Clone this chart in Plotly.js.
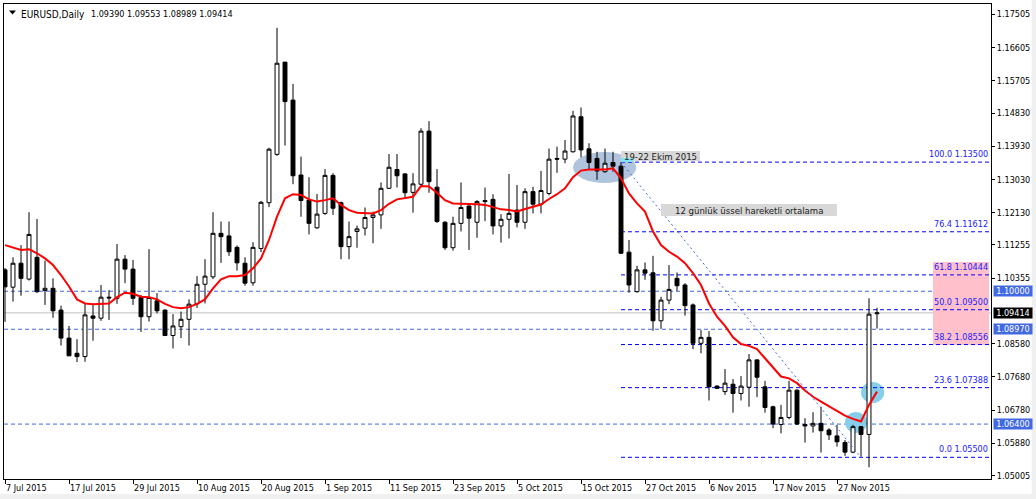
<!DOCTYPE html>
<html><head><meta charset="utf-8">
<script src="https://cdn.plot.ly/plotly-3.0.1.min.js"></script>
<style>html,body{margin:0;padding:0;background:#fff;overflow:hidden}#chart{width:1036px;height:499px}</style>
</head><body><div id="chart"></div>
<script>
// ---------------- DATA ----------------
const symbolName = "EURUSD,Daily";
const lastOHLC = [1.09390, 1.09553, 1.08989, 1.09414];

const open = [1.1058,1.1011,1.1076,1.1033,1.1092,1.1002,1.1008,1.0949,1.0873,1.0832,
1.0823,1.0933,1.0927,1.0984,1.0981,1.1087,1.1060,1.0983,1.0931,1.0974,
1.0949,1.0880,1.0904,1.0924,1.0966,1.1019,1.1039,1.1157,1.1150,1.1119,
1.1076,1.1023,1.1116,1.1240,1.1371,1.1621,1.1518,1.1315,1.1247,1.1172,
1.1211,1.1314,1.1240,1.1121,1.1162,1.1171,1.1200,1.1207,1.1279,1.1330,
1.1318,1.1268,1.1290,1.1434,1.1282,1.1187,1.1118,1.1184,1.1231,1.1187,
1.1246,1.1249,1.1177,1.1195,1.1220,1.1187,1.1270,1.1236,1.1265,1.1360,
1.1358,1.1378,1.1473,1.1386,1.1360,1.1324,1.1349,1.1339,1.1106,1.0999,
1.1058,1.1050,1.0920,1.0976,1.1035,1.1017,1.0963,1.0859,1.0875,1.0743,
1.0728,1.0748,1.0723,1.0740,1.0814,1.0741,1.0687,1.0639,1.0658,1.0732,
1.0639,1.0635,1.0642,1.0624,1.0608,1.0590,1.0564,1.0633,1.0612,1.09390];

const high = [1.1063,1.1092,1.1125,1.1214,1.1196,1.1083,1.1035,1.0961,1.0906,1.0870,
1.0965,1.0963,1.1017,1.1003,1.1128,1.1098,1.1085,1.0990,1.1114,1.0995,
1.0951,1.0938,1.0945,1.0978,1.1041,1.1087,1.1214,1.1189,1.1189,1.1124,
1.1092,1.1133,1.1245,1.1389,1.1714,1.1621,1.1562,1.1365,1.1309,1.1264,
1.1331,1.1320,1.1243,1.1189,1.1178,1.1227,1.1216,1.1295,1.1372,1.1372,
1.1320,1.1320,1.1442,1.1461,1.1331,1.1190,1.1202,1.1295,1.1233,1.1247,
1.1281,1.1263,1.1209,1.1318,1.1288,1.1279,1.1283,1.1326,1.1387,1.1392,
1.1410,1.1489,1.1498,1.1401,1.1378,1.1387,1.1378,1.1350,1.1139,1.1069,
1.1078,1.1096,1.0985,1.1071,1.1051,1.1022,1.0967,1.0895,1.0892,1.0745,
1.0789,1.0762,1.0770,1.0830,1.0816,1.0757,1.0690,1.0692,1.0757,1.0734,
1.0656,1.0672,1.0687,1.0629,1.0638,1.0597,1.0638,1.0635,1.0981,1.09553];

const low = [1.0917,1.0972,1.0988,1.1029,1.0995,1.0963,1.0928,1.0853,1.0825,1.0808,
1.0809,1.0866,1.0920,1.0922,1.0966,1.1022,1.0963,1.0890,1.0918,1.0940,
1.0879,1.0845,1.0873,1.0853,1.0955,1.0967,1.1033,1.1077,1.1096,1.1056,
1.1015,1.1015,1.1106,1.1228,1.1367,1.1395,1.1290,1.1202,1.1154,1.1169,
1.1207,1.1207,1.1087,1.1087,1.1118,1.1151,1.1130,1.1169,1.1277,1.1281,
1.1254,1.1213,1.1288,1.1267,1.1185,1.1112,1.1110,1.1162,1.1112,1.1145,
1.1190,1.1154,1.1132,1.1143,1.1173,1.1169,1.1211,1.1211,1.1260,1.1321,
1.1347,1.1376,1.1363,1.1331,1.1302,1.1321,1.1324,1.1101,1.0996,1.0996,
1.1031,1.0893,1.0898,1.0965,1.1001,1.0934,1.0843,1.0832,1.0704,1.0735,
1.0719,1.0671,1.0704,1.0687,1.0713,1.0671,1.0629,1.0615,1.0653,1.0638,
1.0590,1.0617,1.0563,1.0597,1.0579,1.0554,1.0561,1.0552,1.0523,1.08989];

const close = [1.1012,1.1076,1.1035,1.1154,1.0999,1.1008,1.0947,1.0873,1.0825,1.0823,
1.0936,1.0927,1.0984,1.0982,1.1087,1.1060,1.0981,1.0931,1.0983,1.0947,
1.0880,1.0906,1.0924,1.0965,1.1019,1.1041,1.1157,1.1148,1.1107,1.1077,
1.1022,1.1119,1.1241,1.1385,1.1618,1.1514,1.1313,1.1246,1.1184,1.1209,
1.1314,1.1225,1.1121,1.1148,1.1169,1.1200,1.1207,1.1279,1.1336,1.1313,
1.1267,1.1291,1.1434,1.1297,1.1189,1.1118,1.1184,1.1227,1.1198,1.1243,
1.1243,1.1177,1.1195,1.1211,1.1187,1.1270,1.1236,1.1273,1.1358,1.1358,
1.1380,1.1475,1.1383,1.1349,1.1326,1.1347,1.1339,1.1103,1.1017,1.1058,
1.1049,1.0920,1.0976,1.1005,1.1015,1.0961,1.0859,1.0875,1.0741,1.0737,
1.0751,1.0723,1.0743,1.0814,1.0767,1.0685,1.0640,1.0658,1.0732,1.0640,
1.0635,1.0642,1.0622,1.0611,1.0592,1.0564,1.0633,1.0612,1.0938,1.09414];

// 12-period exponential moving average
const ema12 = [1.1125,1.1119,1.1112,1.1114,1.1103,1.1089,1.1071,1.1044,1.1013,1.0978,
1.0967,1.0965,1.0965,1.0967,1.0984,1.0996,1.0993,1.0985,1.0984,1.0978,
1.0966,1.0957,1.0954,1.0957,1.0966,1.0978,1.1008,1.1032,1.1041,1.1041,
1.1044,1.1062,1.1089,1.1139,1.1202,1.1252,1.1263,1.1261,1.1249,1.1243,
1.1247,1.1252,1.1234,1.1220,1.1213,1.1211,1.1211,1.1220,1.1237,1.1249,
1.1252,1.1256,1.1285,1.1284,1.1267,1.1247,1.1238,1.1238,1.1236,1.1236,
1.1234,1.1227,1.1222,1.1220,1.1216,1.1223,1.1229,1.1235,1.1250,1.1263,
1.1279,1.1309,1.1327,1.1330,1.1330,1.1330,1.1333,1.1306,1.1265,1.1238,
1.1216,1.1162,1.1125,1.1107,1.1094,1.1076,1.1049,1.1017,1.0967,1.0931,
1.0906,1.0875,1.0857,1.0852,1.0843,1.0818,1.0791,1.0769,1.0764,1.0751,
1.0731,1.0714,1.0701,1.0689,1.0676,1.0663,1.0654,1.0647,1.0692,1.0728];

const tickIndex = [0,8,16,24,32,40,48,56,64,72,80,88,96,104];
const tickLabels = ["7 Jul 2015","17 Jul 2015","29 Jul 2015","10 Aug 2015","20 Aug 2015","1 Sep 2015",
  "11 Sep 2015","23 Sep 2015","5 Oct 2015","15 Oct 2015","27 Oct 2015","6 Nov 2015","17 Nov 2015","27 Nov 2015"];
const priceTicks = [1.17505,1.16605,1.15705,1.14830,1.13930,1.13030,1.12130,1.11255,
  1.10355,1.08580,1.07680,1.06780,1.05880,1.05005];

const fibLevels = [100.0, 76.4, 61.8, 50.0, 38.2, 23.6, 0.0];
const fibPrices = [1.13500, 1.11612, 1.10444, 1.09500, 1.08556, 1.07388, 1.05500];
const fibStartBar = 77, fibEndBar = 107;
const hLinePrices = [1.10000, 1.08970, 1.06400];
const bidPrice = 1.09414;
const noteDates = "19-22 Ekim 2015";
const noteEma = "12 günlük üssel hareketli ortalama";

// ---------------- CHART ----------------
const FONT = "DejaVu Sans Condensed, DejaVu Sans, sans-serif";
const idx = close.map((_, i) => i);
const xMin = -0.125, xMax = 123.25;
const yMin = 1.04912, yMax = 1.17785;

const traces = [
  {type:'candlestick', x: idx, open: open, high: high, low: low, close: close,
   increasing:{line:{color:'#000000', width:1}, fillcolor:'#ffffff'},
   decreasing:{line:{color:'#000000', width:1}, fillcolor:'#000000'},
   whiskerwidth:0, hoverinfo:'skip', showlegend:false},
  {type:'scatter', mode:'lines', x: idx, y: ema12,
   line:{color:'#ff0000', width:2}, hoverinfo:'skip', showlegend:false}
];

const shapes = [];
// window frame
shapes.push({type:'rect', xref:'paper', yref:'paper', x0:1.0412, x1:1.05, y0:-0.05, y1:1.02, fillcolor:'#f0f0f0', line:{width:0}});
shapes.push({type:'rect', xref:'paper', yref:'paper', x0:-0.01, x1:1.05, y0:-0.05, y1:-0.0316, fillcolor:'#f0f0f0', line:{width:0}});
// pink zone
shapes.push({type:'rect', xref:'x', yref:'y', x0:116, x1:123, y0:1.08544, y1:1.10793, fillcolor:'#ffc0cb', line:{width:0}, layer:'below'});
// highlight ellipse & circles
shapes.push({type:'circle', xref:'x', yref:'y', x0:71.0, x1:78.9, y0:1.12934, y1:1.13774, fillcolor:'#b0c4de', line:{width:0}, layer:'below'});
shapes.push({type:'circle', xref:'x', yref:'y', x0:105, x1:107.75, y0:1.06159, y1:1.06728, fillcolor:'#87ceeb', line:{width:0}, layer:'below'});
shapes.push({type:'circle', xref:'x', yref:'y', x0:107, x1:109.9, y0:1.06972, y1:1.07541, fillcolor:'#87ceeb', line:{width:0}, layer:'below'});
// horizontal lines
hLinePrices.forEach(p => shapes.push({type:'line', xref:'paper', yref:'y', x0:0, x1:1, y0:p, y1:p,
  line:{color:'#4169e1', width:1, dash:'4px,3px'}, layer:'below'}));
shapes.push({type:'line', xref:'paper', yref:'y', x0:0, x1:1, y0:bidPrice, y1:bidPrice,
  line:{color:'#c0c0c0', width:1}, layer:'below'});
// fibonacci levels
fibPrices.forEach(p => shapes.push({type:'line', xref:'x', yref:'y', x0:fibStartBar, x1:xMax, y0:p, y1:p,
  line:{color:'#0000ff', width:1, dash:'4px,3px'}, layer:'below'}));
shapes.push({type:'line', xref:'x', yref:'y', x0:fibStartBar, y0:fibPrices[0], x1:fibEndBar, y1:fibPrices[fibPrices.length-1],
  line:{color:'#4169e1', width:1, dash:'2px,3px'}});
// note boxes
shapes.push({type:'rect', xref:'x', yref:'y', x0:77, x1:86.875, y0:1.13530, y1:1.13801, fillcolor:'#d8d8d8', line:{width:0}});
shapes.push({type:'rect', xref:'x', yref:'y', x0:77, x1:78.5, y0:1.13503, y1:1.13611, fillcolor:'#80e4f4', line:{width:0}});
shapes.push({type:'rect', xref:'x', yref:'y', x0:82, x1:104, y0:1.12040, y1:1.12365, fillcolor:'#d8d8d8', line:{width:0}});
// header triangle
shapes.push({type:'path', xref:'paper', yref:'paper', path:'M0.005066,0.98632 L0.012158,0.98632 L0.008612,0.97789 Z', fillcolor:'#000', line:{width:0}});

const annotations = [];
annotations.push({xref:'paper', yref:'paper', x:0, y:1, xanchor:'left', yanchor:'top', xshift:15, yshift:-3,
  text:symbolName, showarrow:false, font:{family:FONT, size:10, color:'#000'}});
annotations.push({xref:'paper', yref:'paper', x:0, y:1, xanchor:'left', yanchor:'top', xshift:85, yshift:-3,
  text:lastOHLC.map(v => v.toFixed(5)).join(' '), showarrow:false, font:{family:FONT, size:9, color:'#000'}});
fibLevels.forEach((lv, k) => annotations.push({xref:'paper', yref:'y', x:1, y:fibPrices[k], xanchor:'right', yanchor:'bottom',
  xshift:-1, yshift:1, text: lv.toFixed(1) + ' ' + fibPrices[k].toFixed(5), showarrow:false,
  font:{family:FONT, size:9, color:'#2020ff'}}));
hLinePrices.forEach(p => annotations.push({xref:'paper', yref:'y', x:1, y:p, xanchor:'left', yanchor:'middle', xshift:2,
  text:p.toFixed(5), showarrow:false, bgcolor:'#4169e1', borderpad:0, width:38, height:10,
  font:{family:FONT, size:9, color:'#ffffff'}}));
annotations.push({xref:'paper', yref:'y', x:1, y:bidPrice, xanchor:'left', yanchor:'middle', xshift:2,
  text:bidPrice.toFixed(5), showarrow:false, bgcolor:'#000000', borderpad:0, width:38, height:10,
  font:{family:FONT, size:9, color:'#ffffff'}});
annotations.push({xref:'x', yref:'y', x:81.94, y:1.13652, xanchor:'center', yanchor:'middle', text:noteDates, showarrow:false,
  font:{family:FONT, size:9.5, color:'#202020'}});
annotations.push({xref:'x', yref:'y', x:93, y:1.12202, xanchor:'center', yanchor:'middle', text:noteEma, showarrow:false,
  font:{family:FONT, size:9.5, color:'#202020'}});

const layout = {
  width:1036, height:499, margin:{l:4, r:45, t:4, b:20, pad:0},
  paper_bgcolor:'#ffffff', plot_bgcolor:'#ffffff', showlegend:false, hovermode:false,
  xaxis:{range:[xMin, xMax], showgrid:false, zeroline:false, showline:true, mirror:true, linecolor:'#000', linewidth:1,
    ticks:'outside', ticklen:4, tickcolor:'#000', tickwidth:1, tickvals:tickIndex, ticktext:tickLabels,
    ticklabelposition:'outside right', tickfont:{family:FONT, size:9, color:'#000'},
    rangeslider:{visible:false}, fixedrange:true},
  yaxis:{range:[yMin, yMax], side:'right', showgrid:false, zeroline:false, showline:true, mirror:true, linecolor:'#000', linewidth:1,
    ticks:'outside', ticklen:3, tickcolor:'#000', tickwidth:1, tickvals:priceTicks, ticktext:priceTicks.map(v => v.toFixed(5)),
    tickfont:{family:FONT, size:9, color:'#000'}, fixedrange:true},
  shapes:shapes, annotations:annotations
};

Plotly.newPlot('chart', traces, layout, {displayModeBar:false, staticPlot:true});
</script></body></html>
